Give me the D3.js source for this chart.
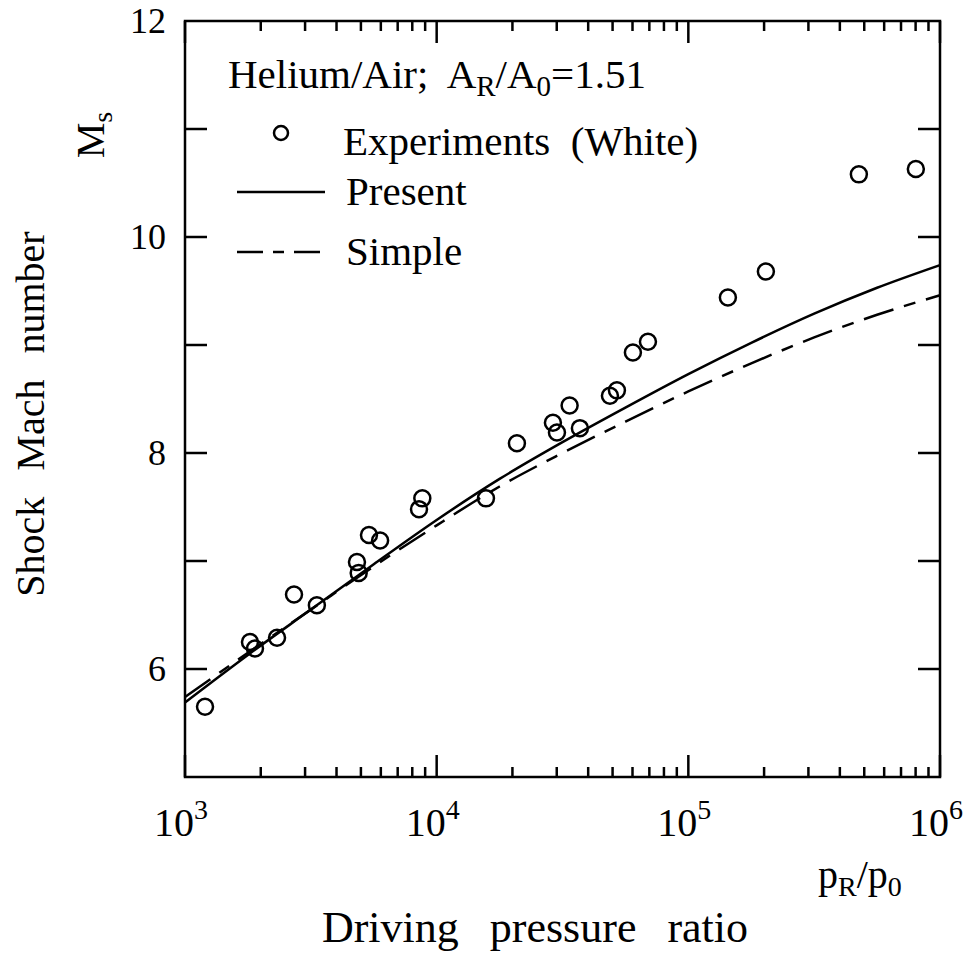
<!DOCTYPE html>
<html>
<head>
<meta charset="utf-8">
<script src="https://cdn.jsdelivr.net/npm/d3@7"></script>
<style>
body { margin: 0; background: #fff; }
svg text { font-family: 'Liberation Serif', 'DejaVu Serif', 'Times New Roman', serif; fill: #000; }
</style>
</head>
<body>
<div id="graph"></div>
<script>
// experiments (White): driving pressure ratio and shock Mach number
var expRatio = [1201, 1812, 1897, 2321, 2711, 3342, 4823, 4900, 5383, 5960, 8508, 8770, 15700,
  20840, 28970, 30060, 33750, 37080, 48810, 52030, 60220, 69110, 143600, 203300, 476000, 801700];
var expMach = [5.65, 6.25, 6.19, 6.29, 6.69, 6.59, 6.99, 6.89, 7.24, 7.19, 7.48, 7.58, 7.58,
  8.09, 8.28, 8.19, 8.44, 8.23, 8.53, 8.58, 8.93, 9.03, 9.44, 9.68, 10.58, 10.63];

// model curves, read at log10(pR/p0)
var curveLog = [3, 3.25, 3.5, 3.75, 4, 4.25, 4.5, 4.75, 5, 5.25, 5.5, 5.75, 6];
var presentMach = [5.69, 6.13, 6.55, 6.97, 7.38, 7.76, 8.10, 8.42, 8.73, 9.02, 9.29, 9.53, 9.74];
var simpleMach = [5.74, 6.15, 6.55, 6.95, 7.33, 7.69, 8.00, 8.29, 8.57, 8.83, 9.07, 9.28, 9.46];

// ticks
var yTicks = [6, 7, 8, 9, 10, 11];
var yLabels = [6, 8, 10, 12];
var xDecades = [3, 4, 5, 6];

var svg = d3.select('#graph').append('svg')
  .attr('width', 965)
  .attr('height', 964)
  .attr('font-family', 'Liberation Serif');

var x = d3.scaleLog().domain([1e3, 1e6]).range([185, 940]);
var y = d3.scaleLinear().domain([5, 12]).range([777, 21]);

var majorLen = 22, minorLen = 10;

// minor x ticks 2..9 in every decade
var xMinor = [];
xDecades.slice(0, 3).forEach(function(e) {
  for (var k = 2; k <= 9; k++) xMinor.push(k * Math.pow(10, e));
});
var xMajor = xDecades.map(function(e) { return Math.pow(10, e); });

var axes = svg.append('g')
  .attr('stroke', '#000')
  .attr('stroke-width', 2.5)
  .attr('fill', 'none');

axes.append('rect')
  .attr('x', x(1e3)).attr('y', y(12))
  .attr('width', x(1e6) - x(1e3))
  .attr('height', y(5) - y(12));

// bottom and top ticks
[y(5), y(12)].forEach(function(py, i) {
  var dir = i == 0 ? -1 : 1;
  axes.selectAll(null).data(xMinor).enter().append('line')
    .attr('x1', function(d) { return x(d); })
    .attr('x2', function(d) { return x(d); })
    .attr('y1', py).attr('y2', py + dir * minorLen);
  axes.selectAll(null).data(xMajor).enter().append('line')
    .attr('x1', function(d) { return x(d); })
    .attr('x2', function(d) { return x(d); })
    .attr('y1', py).attr('y2', py + dir * majorLen);
});

// left and right ticks
[x(1e3), x(1e6)].forEach(function(px, i) {
  var dir = i == 0 ? 1 : -1;
  axes.selectAll(null).data(yTicks).enter().append('line')
    .attr('x1', px).attr('x2', px + dir * majorLen)
    .attr('y1', function(d) { return y(d); })
    .attr('y2', function(d) { return y(d); });
});

// y tick labels
svg.selectAll('.ylab')
  .data(yLabels)
  .enter().append('text')
  .attr('class', 'ylab')
  .attr('x', 166)
  .attr('y', function(d) { return y(d) + 12; })
  .attr('text-anchor', 'end')
  .style('font-size', '36px')
  .text(function(d) { return d; });

// x tick labels 10^n
var xl = svg.selectAll('.xlab')
  .data(xDecades)
  .enter().append('text')
  .attr('class', 'xlab')
  .attr('x', function(d) { return x(Math.pow(10, d)) - 4; })
  .attr('y', 836)
  .attr('text-anchor', 'middle')
  .style('font-size', '40px');
xl.append('tspan').text('10');
xl.append('tspan')
  .attr('dy', -17)
  .style('font-size', '28px')
  .text(function(d) { return d; });

// curves
var curve = d3.line()
  .x(function(d) { return x(Math.pow(10, d[0])); })
  .y(function(d) { return y(d[1]); })
  .curve(d3.curveMonotoneX);

svg.append('path')
  .datum(curveLog.map(function(l, i) { return [l, presentMach[i]]; }))
  .attr('fill', 'none')
  .attr('stroke', '#000')
  .attr('stroke-width', 2.5)
  .attr('d', curve);

svg.append('path')
  .datum(curveLog.map(function(l, i) { return [l, simpleMach[i]]; }))
  .attr('fill', 'none')
  .attr('stroke', '#000')
  .attr('stroke-width', 2.5)
  .attr('stroke-dasharray', '31,11,12,11')
  .attr('d', curve);

// experiment dots
svg.selectAll('.dot')
  .data(expRatio)
  .enter().append('circle')
  .attr('class', 'dot')
  .attr('cx', function(d) { return x(d); })
  .attr('cy', function(d, i) { return y(expMach[i]); })
  .attr('r', 8)
  .attr('fill', 'none')
  .attr('stroke', '#000')
  .attr('stroke-width', 2.5);

// legend
var lg = svg.append('g').style('font-size', '41px');
var t0 = lg.append('text').attr('x', 228).attr('y', 88).attr('xml:space', 'preserve');
t0.append('tspan').text('Helium/Air;  A');
t0.append('tspan').attr('dy', 8).style('font-size', '29px').text('R');
t0.append('tspan').attr('dy', -8).text('/A');
t0.append('tspan').attr('dy', 8).style('font-size', '29px').text('0');
t0.append('tspan').attr('dy', -8).text('=1.51');

lg.append('circle')
  .attr('cx', 281).attr('cy', 133).attr('r', 7)
  .attr('fill', 'none').attr('stroke', '#000').attr('stroke-width', 2.5);
lg.append('text').attr('x', 343).attr('y', 155)
  .attr('xml:space', 'preserve')
  .text('Experiments  (White)');

lg.append('line')
  .attr('x1', 237).attr('x2', 325).attr('y1', 192).attr('y2', 192)
  .attr('stroke', '#000').attr('stroke-width', 2.5);
lg.append('text').attr('x', 346).attr('y', 205).text('Present');

lg.append('line')
  .attr('x1', 237).attr('x2', 325).attr('y1', 252).attr('y2', 252)
  .attr('stroke', '#000').attr('stroke-width', 2.5)
  .attr('stroke-dasharray', '26,10,11,10');
lg.append('text').attr('x', 346).attr('y', 265).text('Simple');

// axis titles
var xt = svg.append('text').attr('x', 818).attr('y', 888).style('font-size', '40px');
xt.append('tspan').text('p');
xt.append('tspan').attr('dy', 8).style('font-size', '28px').text('R');
xt.append('tspan').attr('dy', -8).text('/p');
xt.append('tspan').attr('dy', 8).style('font-size', '28px').text('0');

svg.append('text')
  .attr('x', 535).attr('y', 942)
  .attr('text-anchor', 'middle')
  .style('font-size', '44px')
  .style('word-spacing', '20px')
  .text('Driving pressure ratio');

svg.append('text')
  .attr('transform', 'translate(44,414) rotate(-90)')
  .attr('text-anchor', 'middle')
  .style('font-size', '40px')
  .style('word-spacing', '16px')
  .text('Shock Mach number');

var ms = svg.append('text')
  .attr('transform', 'translate(104,135) rotate(-90)')
  .attr('text-anchor', 'middle')
  .style('font-size', '40px');
ms.append('tspan').text('M');
ms.append('tspan').attr('dy', 8).style('font-size', '28px').text('s');
</script>
</body>
</html>
